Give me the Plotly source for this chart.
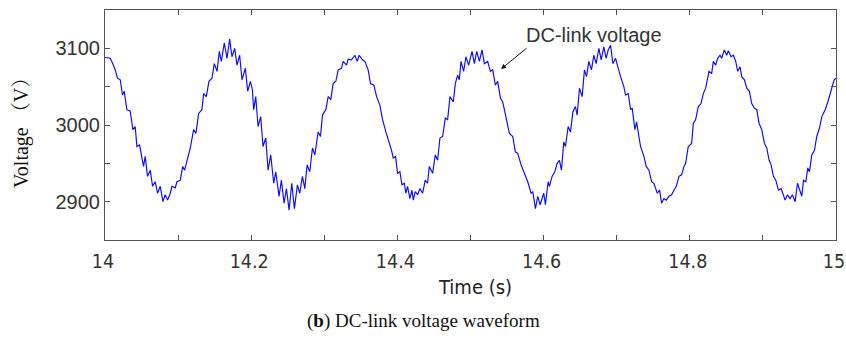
import plotly.graph_objects as go

# Time offsets after 14 s (ms) and the DC-link voltage read at each point (V)
t_ms = [
    0, 7.1, 10.7, 13.9, 17.1, 20.8, 24.0, 26.3, 29.9, 34.5,
    38.1, 41.3, 43.6, 47.3, 50.5, 52.7, 55.0, 58.2, 61.9, 65.1,
    68.7, 71.9, 75.6, 79.2, 82.4, 85.6, 89.3, 91.6, 96.1, 98.4,
    103.0, 106.2, 108.9, 112.1, 116.7, 121.2, 124.4, 128.1, 132.6, 134.9,
    138.6, 142.2, 146.3, 149.5, 153.2, 156.4, 159.1, 163.2, 166.9, 170.5,
    173.7, 177.4, 180.6, 184.2, 187.4, 192.0, 195.2, 198.9,
    201.6, 203.4, 206.2, 209.4, 213.0, 216.2, 219.9, 223.1, 226.7, 230.8,
    233.6, 238.1, 241.3, 245.0, 248.2, 251.8, 255.5, 259.1, 263.2, 266.4,
    270.1, 273.3, 276.5, 280.1, 283.8, 287.0, 291.6, 294.8, 297.5, 302.1,
    305.3, 308.9, 312.1, 315.8, 319.0, 323.5, 325.8, 330.4, 332.6, 337.2,
    341.8, 345.0, 347.7, 352.3, 355.5, 360.0, 363.2, 367.8, 371.5, 376.0,
    379.7, 384.2, 388.8, 392.0, 394.3, 397.5,
    400.2, 403.4, 406.2, 409.4, 411.6, 413.9, 417.1, 419.9, 421.7, 424.4,
    427.6, 430.8, 434.5, 438.1, 441.3, 443.6, 448.2, 451.8, 455.0, 458.2,
    461.9, 465.5, 468.7, 471.9, 476.5, 479.2, 482.4, 484.7, 487.0, 490.6,
    493.8, 497.5, 502.1, 505.3, 508.5, 512.1, 515.8, 519.0, 523.5, 527.2,
    530.4, 534.0, 537.2, 540.9, 544.1, 548.6, 553.2, 557.8, 561.4, 564.6,
    569.2, 573.7, 578.3, 582.9, 585.2, 588.8, 592.0, 595.2, 598.9,
    600.2, 602.5, 606.2, 608.0, 611.6, 615.3, 618.5, 621.7, 624.4, 627.6,
    629.9, 633.6, 636.8, 640.0, 643.6, 645.9, 649.1, 652.7, 655.9, 658.7,
    661.9, 665.5, 668.7, 671.9, 675.6, 678.8, 682.4, 685.6, 688.4, 691.6,
    694.8, 698.4, 702.1, 705.3, 709.8, 712.1, 715.8, 719.0, 721.2, 724.9,
    727.2, 732.6, 737.2, 740.4, 744.1, 747.7, 750.9, 755.5, 758.7, 761.4,
    764.6, 767.8, 771.5, 775.1, 778.3, 781.5, 785.2, 788.8, 792.0, 794.3,
    797.9, 800.2,
    802.5, 804.8, 808.0, 811.6, 815.3, 818.5, 821.7, 826.3, 829.9, 832.2,
    835.4, 838.1, 841.3, 843.6, 847.3, 850.5, 852.7, 856.4, 859.6, 862.8,
    865.5, 868.7, 871.0, 874.7, 877.9, 881.5, 884.7, 888.4, 891.6, 894.8,
    898.4, 902.1, 905.3, 908.5, 911.2, 914.4, 917.6, 921.2, 924.9, 927.2,
    930.4, 933.6, 937.2, 940.4, 944.1, 947.3, 950.0, 953.2, 955.5, 958.7,
    961.4, 963.7, 966.9, 970.5, 973.7, 977.4, 980.6, 985.2, 988.8, 992.0,
    994.3, 997.5, 1000.0,
]

voltage = [
    3088, 3087, 3080, 3072, 3061, 3059, 3039, 3044, 3020, 3018,
    2994, 2998, 2972, 2974, 2957, 2946, 2959, 2933, 2941, 2920,
    2926, 2911, 2920, 2900, 2909, 2902, 2911, 2920, 2918, 2926,
    2928, 2946, 2941, 2954, 2970, 2994, 2989, 3015, 3020, 3041,
    3037, 3057, 3061, 3080, 3070, 3096, 3083, 3107, 3087, 3112,
    3089, 3100, 3078, 3091, 3059, 3074, 3044, 3057,
    3046, 3020, 3037, 2998, 3011, 2972, 2983, 2941, 2961, 2924,
    2939, 2907, 2928, 2898, 2917, 2889, 2924, 2891, 2922, 2911,
    2933, 2917, 2948, 2939, 2970, 2961, 2991, 2985, 3013, 3020,
    3037, 3033, 3054, 3057, 3072, 3074, 3083, 3078, 3086, 3085,
    3091, 3083, 3091, 3085, 3083, 3072, 3054, 3052, 3037, 3026,
    3007, 2991, 2978, 2967, 2957, 2959,
    2937, 2939, 2922, 2924, 2911, 2920, 2904, 2915, 2902, 2913,
    2909, 2917, 2911, 2928, 2924, 2946, 2937, 2961, 2954, 2983,
    2985, 3009, 3007, 3037, 3030, 3054, 3065, 3059, 3083, 3070,
    3089, 3078, 3096, 3080, 3096, 3083, 3098, 3080, 3083, 3070,
    3072, 3052, 3057, 3035, 3030, 3009, 2989, 2985, 2965, 2963,
    2948, 2937, 2926, 2911, 2913, 2891, 2907, 2896, 2909,
    2911, 2896, 2926, 2920, 2933, 2939, 2950, 2954, 2941, 2978,
    2972, 2998, 2991, 3017, 3024, 3013, 3048, 3037, 3072, 3063,
    3083, 3072, 3091, 3080, 3100, 3085, 3102, 3087, 3098, 3104,
    3080, 3087, 3072, 3063, 3050, 3039, 3041, 3020, 3022, 2994,
    3004, 2972, 2959, 2946, 2941, 2926, 2924, 2911, 2915, 2898,
    2904, 2902, 2907, 2909, 2915, 2920, 2933, 2935, 2946, 2950,
    2972, 2974,
    2976, 3002, 3007, 3024, 3028, 3041, 3048, 3070, 3067, 3083,
    3078, 3087, 3091, 3087, 3098, 3091, 3097, 3089, 3091, 3083,
    3070, 3076, 3063, 3059, 3048, 3044, 3028, 3022, 3020, 3002,
    2994, 2976, 2970, 2954, 2948, 2933, 2928, 2915, 2917, 2911,
    2902, 2909, 2904, 2909, 2900, 2924, 2917, 2907, 2928, 2926,
    2944, 2939, 2961, 2967, 2985, 2996, 3011, 3020, 3030, 3041,
    3046, 3059, 3061,
]

x_ticks = [14.0, 14.1, 14.2, 14.3, 14.4, 14.5, 14.6, 14.7, 14.8, 14.9, 15.0]
x_tick_text = ["14", "", "14.2", "", "14.4", "", "14.6", "", "14.8", "", "15"]
y_ticks = [2850, 2900, 2950, 3000, 3050, 3100, 3150]
y_tick_text = ["", "2900", "", "3000", "", "3100", ""]

time_s = [14 + v / 1000 for v in t_ms]

W, H = 846, 340
L, R, T, B = 105, 10, 10, 100
pw, ph = W - L - R, H - T - B


def px(xp):
    return (xp - L) / pw


def py(yp):
    return (H - B - yp) / ph


narrow = "Liberation Sans Narrow, DejaVu Sans Condensed, Arial Narrow, sans-serif"
sans = "Liberation Sans, Arial, sans-serif"
serif = "Liberation Serif, Times New Roman, Noto Serif CJK SC, serif"
frame = "#555555"

fig = go.Figure()
fig.add_trace(go.Scatter(
    x=time_s, y=voltage, mode="lines",
    line=dict(color="#0a0aff", width=1.15),
    showlegend=False, hoverinfo="skip",
))

axis_common = dict(
    showgrid=False, zeroline=False, showline=True, linecolor=frame, linewidth=1,
    mirror="ticks", ticks="inside", ticklen=5, tickcolor=frame, tickwidth=1,
    automargin=False,
)

fig.update_xaxes(
    range=[14, 15], tickmode="array", tickvals=x_ticks, ticktext=x_tick_text,
    tickfont=dict(family=narrow, size=19.5, color="#333333"),
    ticklabeloverflow="allow", ticklabelstandoff=4, ticklabelshift=-2,
    **axis_common,
)
fig.update_yaxes(
    range=[2850, 3150], tickmode="array", tickvals=y_ticks, ticktext=y_tick_text,
    tickfont=dict(family=sans, size=20, color="#333333"),
    **axis_common,
)

annotations = [
    dict(text="Time (s)", x=px(475), y=py(287), xref="paper", yref="paper",
         showarrow=False, font=dict(family=narrow, size=20, color="#222222"),
         xanchor="center", yanchor="middle"),
    dict(text="Voltage （V）", x=px(22), y=py(128), xref="paper", yref="paper",
         showarrow=False, textangle=-90,
         font=dict(family=serif, size=20, color="#111111"),
         xanchor="center", yanchor="middle"),
    dict(text="(<b>b</b>) DC-link voltage waveform", x=px(423), y=py(321),
         xref="paper", yref="paper", showarrow=False,
         font=dict(family=serif, size=19, color="#111111"),
         xanchor="center", yanchor="middle"),
    dict(text="DC-link voltage", x=px(594), y=py(35), xref="paper", yref="paper",
         showarrow=False, font=dict(family=sans, size=20, color="#333333"),
         xanchor="center", yanchor="middle"),
    dict(text="", x=14.5418, y=3073, xref="x", yref="y", showarrow=True,
         ax=27, ay=-22, arrowhead=2, arrowsize=1, arrowwidth=1,
         arrowcolor="#111111"),
]

fig.update_layout(
    width=W, height=H, margin=dict(l=L, r=R, t=T, b=B, pad=0, autoexpand=False),
    paper_bgcolor="white", plot_bgcolor="white",
    annotations=annotations,
)

fig.write_html("out.html")
